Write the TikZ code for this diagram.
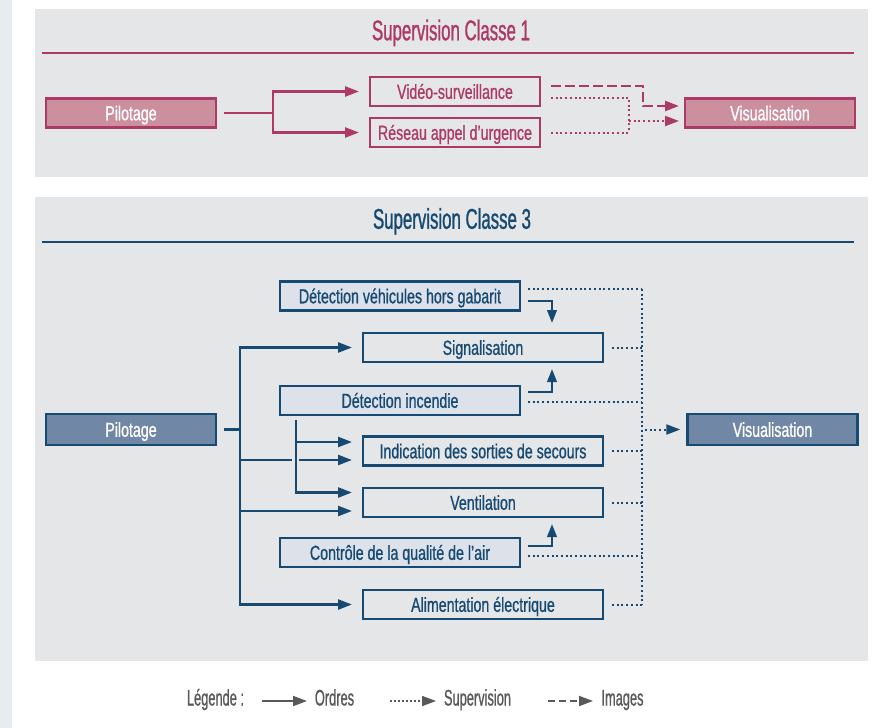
\documentclass[tikz,border=0pt]{standalone}
\usepackage{fontspec}
\setmainfont{Liberation Sans}
\newfontfamily\boxfont[FakeStretch=0.70,FakeBold=0.8]{Liberation Sans}
\newfontfamily\titlefont[FakeStretch=0.59,FakeBold=1]{Liberation Sans}
\newfontfamily\legfont[FakeStretch=0.57,FakeBold=0.8]{Liberation Sans}
\usetikzlibrary{arrows.meta}
\definecolor{mag}{HTML}{AC3A64}
\definecolor{magfill}{HTML}{CC8F9E}
\definecolor{navy}{HTML}{174A72}
\definecolor{navyfill}{HTML}{7088A5}
\definecolor{lightfill}{HTML}{DCE1EA}
\definecolor{panel}{HTML}{E5E6E8}
\definecolor{strip}{HTML}{E8EBEF}
\definecolor{leg}{HTML}{58595B}
\tikzset{
  bx/.style={rectangle, line width=2.4pt, inner sep=0pt, text height=14.6pt, text depth=0pt,
    font=\boxfont\fontsize{20.3}{21}\selectfont},
  magbox/.style={bx, draw=mag, text=mag, minimum width=169.6pt, minimum height=29pt},
  magfbox/.style={magbox, fill=magfill, text=white},
  navbox/.style={bx, draw=navy, text=navy, minimum width=239.6pt, minimum height=29pt},
  navlbox/.style={navbox, fill=lightfill},
  navfbox/.style={bx, draw=navy, fill=navyfill, text=white, minimum width=170pt, minimum height=30.6pt},
  ttl/.style={inner sep=0pt, text height=20.5pt, text depth=0pt, font=\titlefont\fontsize{28.5}{30}\selectfont},
  bigtip/.style={-{Triangle[length=14pt,width=10pt]}},
  smalltip/.style={-{Triangle[length=13pt,width=9.5pt]}},
  ordm/.style={draw=mag, line width=2.4pt},
  ordn/.style={draw=navy, line width=2.4pt},
  supm/.style={draw=mag, line width=2pt, dash pattern=on 2pt off 2.7pt},
  supn/.style={draw=navy, line width=2pt, dash pattern=on 2pt off 2.7pt},
  imgm/.style={draw=mag, line width=2.4pt, dash pattern=on 10pt off 4pt},
  legtxt/.style={inner sep=0pt, text height=16pt, text depth=0pt, text=leg,
    font=\legfont\fontsize{22.5}{24}\selectfont},
  legln/.style={draw=leg, line width=1.8pt},
  legtip/.style={-{Triangle[length=14pt,width=10pt]}},
}
\begin{document}
\begin{tikzpicture}[x=1pt,y=-1pt]
\useasboundingbox (0,0) rectangle (876,728);
\fill[white] (0,0) rectangle (876,728);
\fill[strip] (0,0) rectangle (12,728);
\fill[panel] (35,9) rectangle (868,177);
\fill[panel] (35,197) rectangle (868,661);

% ---------- Supervision Classe 1 ----------
\node[ttl, text=mag] (t1) at (451,30) {Supervision Classe 1};
\coordinate (l1a) at (42,53);
\coordinate (l1b) at (854,53);
\draw[mag, line width=2pt] (l1a) -- (l1b);

\node[magfbox] (pil1) at (131,113) {Pilotage};
\node[magbox] (vid) at (455,91.5) {Vidéo-surveillance};
\node[magbox] (res) at (455,132.5) {Réseau appel d’urgence};
\node[magfbox] (vis1) at (770,113) {Visualisation};

\coordinate (j1) at (273,113);
\draw[ordm] ([xshift=7]pil1.east) -- (j1);
\draw[ordm, bigtip] (j1) |- ([xshift=-10]vid.west);
\draw[ordm, bigtip] (j1) |- ([xshift=-10]res.west);

\coordinate (c1) at (643,106);
\draw[imgm, bigtip] ([shift={(10,-5.5)}]vid.east) -| (c1) -- ([shift={(-5,-7)}]vis1.west);
\coordinate (k0) at (629,98);
\coordinate (k1) at (629,121);
\coordinate (k2) at (629,132.5);
\draw[supm] ([shift={(10,6.5)}]vid.east) -- (k0) -- (k2);
\draw[supm] ([xshift=10]res.east) -- (k2);
\draw[supm, bigtip] (k1) -- ([shift={(-5,8)}]vis1.west);

% ---------- Supervision Classe 3 ----------
\node[ttl, text=navy] (t3) at (452,218.5) {Supervision Classe 3};
\coordinate (l3a) at (42,242);
\coordinate (l3b) at (854,242);
\draw[navy, line width=2pt] (l3a) -- (l3b);

\node[navfbox] (pil3) at (131,429.5) {Pilotage};
\node[navfbox] (vis3) at (772.5,429.5) {Visualisation};
\node[navlbox] (dvh) at (400,296) {Détection véhicules hors gabarit};
\node[navbox] (sig) at (483,347.5) {Signalisation};
\node[navlbox] (din) at (400,400.5) {Détection incendie};
\node[navbox] (ind) at (483,451) {Indication des sorties de secours};
\node[navbox] (ven) at (483,502.5) {Ventilation};
\node[navlbox] (cqa) at (400,552.5) {Contrôle de la qualité de l’air};
\node[navbox] (ali) at (483,604.5) {Alimentation électrique};

% orders from Pilotage
\coordinate (t0) at (240,429.5);
\coordinate (t1a) at (240,460);
\coordinate (t1b) at (292,460);
\coordinate (t1c) at (299,460);
\coordinate (t2) at (240,511);
\draw[ordn] ([xshift=7]pil3.east) -- (t0);
\draw[ordn, bigtip] (t0) |- ([xshift=-10]sig.west);
\draw[ordn, bigtip] (t0) |- ([xshift=-10]ali.west);
\draw[ordn] (t1a) -- (t1b);
\draw[ordn, bigtip] (t1c) -- ([shift={(-10,9)}]ind.west);
\draw[ordn, bigtip] (t2) -- ([shift={(-10,8.5)}]ven.west);

% orders from Détection incendie
\coordinate (d0) at (296,420);
\coordinate (d1) at (296,442);
\draw[ordn, bigtip] (d0) |- ([shift={(-10,-10)}]ven.west);
\draw[ordn, bigtip] (d1) -- ([shift={(-10,-9)}]ind.west);

% detector to actuator
\coordinate (a1) at (552,323);
\coordinate (a2) at (552,369);
\coordinate (a3) at (552,524);
\draw[ordn, smalltip] ([shift={(7,5)}]dvh.east) -| (a1);
\draw[ordn, smalltip] ([shift={(7,-8.5)}]din.east) -| (a2);
\draw[ordn, smalltip] ([shift={(7,-6.5)}]cqa.east) -| (a3);

% supervision bus
\coordinate (b0) at (642,289);
\coordinate (b1) at (642,347.5);
\coordinate (b2) at (642,402);
\coordinate (b3) at (642,451);
\coordinate (b4) at (642,502.5);
\coordinate (b5) at (642,556);
\coordinate (b6) at (642,604.5);
\coordinate (bv) at (645,429.5);
\draw[supn] (b0) -- (b6);
\draw[supn] ([shift={(7,-7)}]dvh.east) -- (b0);
\draw[supn] ([xshift=8]sig.east) -- (b1);
\draw[supn] ([shift={(7,1.5)}]din.east) -- (b2);
\draw[supn] ([xshift=8]ind.east) -- (b3);
\draw[supn] ([xshift=8]ven.east) -- (b4);
\draw[supn] ([shift={(7,3.5)}]cqa.east) -- (b5);
\draw[supn] ([xshift=8]ali.east) -- (b6);
\draw[supn, bigtip] (bv) -- ([xshift=-6]vis3.west);

% ---------- Legend ----------
\node[legtxt] (lg) at (215.5,697.5) {Légende :};
\node[legtxt] (lo) at (334.5,697.5) {Ordres};
\node[legtxt] (ls) at (477.5,697.5) {Supervision};
\node[legtxt] (li) at (622.5,697.5) {Images};
\coordinate (o1) at (262,701);
\coordinate (o2) at (307,701);
\coordinate (s1) at (390,701);
\coordinate (s2) at (436,701);
\coordinate (i1) at (548,701);
\coordinate (i2) at (593,701);
\draw[legln, legtip] (o1) -- (o2);
\draw[legln, legtip, line width=1.6pt, dash pattern=on 1.6pt off 2.4pt] (s1) -- (s2);
\draw[legln, legtip, dash pattern=on 7pt off 4pt] (i1) -- (i2);
\end{tikzpicture}
\end{document}
